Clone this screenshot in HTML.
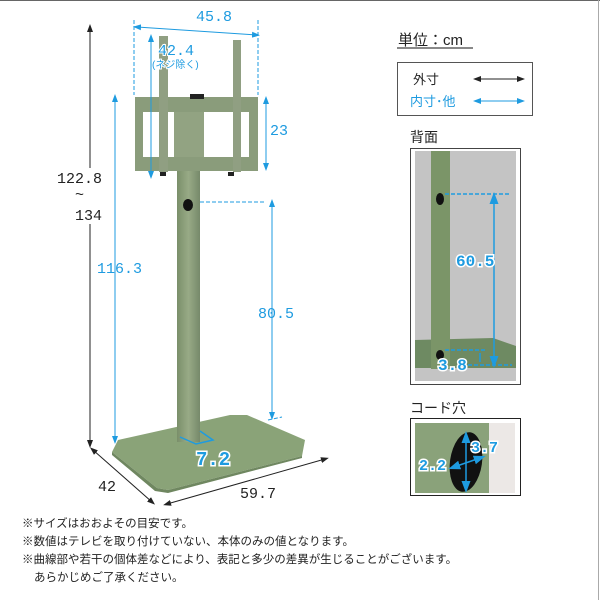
<!DOCTYPE html>
<html><head><meta charset="utf-8"><style>
body{margin:0;width:600px;height:600px;background:#fff;overflow:hidden;font-family:"Liberation Sans","Noto Sans CJK JP",sans-serif}
svg{display:block}
</style></head><body>
<svg width="600" height="600" viewBox="0 0 600 600" xmlns="http://www.w3.org/2000/svg" font-family="Liberation Sans, Noto Sans CJK JP, sans-serif">
<defs>
<marker id="ab" markerWidth="8" markerHeight="8" refX="4" refY="4" orient="auto-start-reverse"><path d="M0,1 L8,4 L0,7z" fill="#222"/></marker>
<marker id="au" markerWidth="8" markerHeight="8" refX="4" refY="4" orient="auto-start-reverse"><path d="M0,1 L8,4 L0,7z" fill="#1e9be0"/></marker>
<linearGradient id="pole" x1="0" x2="1"><stop offset="0" stop-color="#7a8f6a"/><stop offset="0.5" stop-color="#98aa86"/><stop offset="1" stop-color="#76896a"/></linearGradient>
</defs>
<line x1="0" y1="0.5" x2="600" y2="0.5" stroke="#666"/>
<line x1="598.5" y1="0" x2="598.5" y2="600" stroke="#aaa"/>

<!-- base -->
<polygon points="112,452 118,440 230,415 247,415 305,440 302,456 168,490 157,488" fill="#8aa378"/>
<polygon points="112,452 157,488 168,490 302,456 302,458 168,493 155,491 112,455" fill="#6f8760"/>
<!-- pole -->
<rect x="177" y="168" width="23" height="274" fill="url(#pole)"/>
<ellipse cx="188" cy="205" rx="5" ry="6" fill="#111"/>
<!-- mount frame -->
<rect x="135" y="97" width="123" height="74" fill="#8a9c7b"/>
<rect x="143" y="112" width="106" height="45" fill="#fff"/>
<rect x="174" y="112" width="30" height="45" fill="#92a382"/>
<rect x="190" y="94" width="14" height="5" fill="#222"/>
<rect x="159" y="36" width="9" height="136" fill="#909f82"/>
<rect x="233" y="40" width="8" height="132" fill="#909f82"/>
<rect x="160" y="172" width="6" height="4" fill="#222"/><rect x="228" y="172" width="6" height="4" fill="#222"/>

<!-- dims black -->
<line x1="90" y1="28" x2="90" y2="444" stroke="#222" marker-start="url(#ab)" marker-end="url(#ab)"/>
<rect x="55" y="168" width="52" height="56" fill="#fff"/>
<line x1="93" y1="450" x2="152" y2="502" stroke="#222" marker-start="url(#ab)" marker-end="url(#ab)"/>
<line x1="167" y1="504" x2="325" y2="459" stroke="#222" marker-start="url(#ab)" marker-end="url(#ab)"/>
<g font-size="15" fill="#222" font-family="Liberation Mono, monospace">
<text x="57" y="183">122.8</text><text x="75" y="199">~</text><text x="75" y="220">134</text>
<text x="98" y="491">42</text><text x="240" y="498">59.7</text>
</g>
<!-- dims blue -->
<g stroke="#1e9be0" fill="none">
<line x1="134" y1="20" x2="134" y2="95" stroke-dasharray="4,2"/>
<line x1="258" y1="20" x2="258" y2="95" stroke-dasharray="4,2"/>
<line x1="137" y1="27" x2="256" y2="35" marker-start="url(#au)" marker-end="url(#au)"/>
<line x1="151" y1="38" x2="151" y2="175" marker-start="url(#au)" marker-end="url(#au)"/>
<line x1="266" y1="100" x2="266" y2="167" marker-start="url(#au)" marker-end="url(#au)"/>
<line x1="115" y1="98" x2="115" y2="440" marker-start="url(#au)" marker-end="url(#au)"/>
<line x1="272" y1="203" x2="272" y2="416" marker-start="url(#au)" marker-end="url(#au)"/>
<line x1="200" y1="202" x2="266" y2="202" stroke-dasharray="4,2"/>
<line x1="268" y1="420" x2="282" y2="417" stroke-dasharray="4,2"/>
<path d="M180,437 L196,444 L213,440 L200,431" stroke-width="1.5"/>
</g>
<g fill="#1e9be0" font-family="Liberation Mono, monospace" font-size="15">
<text x="196" y="21">45.8</text>
<text x="158" y="55" stroke="#fff" stroke-width="2" paint-order="stroke">42.4</text>
<text x="152" y="68" font-size="10" font-family="Liberation Sans, Noto Sans CJK JP, sans-serif" stroke="#fff" stroke-width="2" paint-order="stroke">(ネジ除く)</text>
<text x="270" y="135">23</text>
<text x="97" y="273">116.3</text>
<text x="258" y="318">80.5</text>
<text x="196" y="465" font-size="19" font-weight="bold" stroke="#fff" stroke-width="3" paint-order="stroke">7.2</text>
</g>

<!-- legend -->
<text x="398" y="45" font-size="15" fill="#222">単位：cm</text>
<line x1="397" y1="48" x2="473" y2="48" stroke="#888" stroke-width="2"/>
<rect x="397.5" y="62.5" width="135" height="53" fill="#fff" stroke="#555"/>
<text x="413" y="84" font-size="13" fill="#222">外寸</text>
<line x1="477" y1="79" x2="521" y2="79" stroke="#222" marker-start="url(#ab)" marker-end="url(#ab)"/>
<text x="410" y="106" font-size="13" fill="#1e9be0">内寸･他</text>
<line x1="477" y1="101" x2="521" y2="101" stroke="#1e9be0" marker-start="url(#au)" marker-end="url(#au)"/>

<!-- back -->
<text x="410" y="142" font-size="14" fill="#222">背面</text>
<rect x="410.5" y="148.5" width="110" height="236" fill="#fff" stroke="#444"/>
<rect x="415" y="151" width="101" height="230" fill="#c4c4c4"/>
<polygon points="415,340 493,338 516,346 516,368 415,368" fill="#6e8a62"/>
<rect x="431" y="151" width="19" height="218" fill="#7b9568"/>
<ellipse cx="440" cy="199" rx="4" ry="6" fill="#111"/>
<ellipse cx="440" cy="355" rx="4" ry="5" fill="#111"/>
<g stroke="#1e9be0" fill="none" stroke-width="1.5">
<line x1="445" y1="194" x2="510" y2="194" stroke-dasharray="4,2"/>
<line x1="445" y1="350" x2="486" y2="350" stroke-dasharray="4,2"/>
<line x1="468" y1="365" x2="512" y2="365" stroke-dasharray="4,2"/>
<line x1="494" y1="198" x2="494" y2="362" marker-start="url(#au)" marker-end="url(#au)"/>
<line x1="480" y1="353" x2="480" y2="362"/>
</g>
<g fill="#1e9be0" font-size="16" font-weight="bold" stroke="#fff" stroke-width="3" paint-order="stroke" font-family="Liberation Mono, monospace">
<text x="456" y="266">60.5</text>
<text x="438" y="370">3.8</text>
</g>

<!-- cord -->
<text x="410" y="413" font-size="14" fill="#222">コード穴</text>
<rect x="410.5" y="418.5" width="110" height="77" fill="#fff" stroke="#222"/>
<rect x="415" y="423" width="74" height="70" fill="#8aa27a"/>
<rect x="489" y="423" width="26" height="70" fill="#ece8e6"/>
<ellipse cx="466" cy="462" rx="16" ry="30" fill="#111" transform="rotate(8 466 462)"/>
<g stroke="#1e9be0" stroke-width="1.5">
<line x1="466" y1="437" x2="466" y2="487" marker-start="url(#au)" marker-end="url(#au)"/>
<line x1="454" y1="467" x2="480" y2="458" marker-start="url(#au)" marker-end="url(#au)"/>
</g>
<g fill="#1e9be0" font-size="15" font-weight="bold" stroke="#fff" stroke-width="3" paint-order="stroke" font-family="Liberation Mono, monospace">
<text x="471" y="452">3.7</text>
<text x="419" y="470">2.2</text>
</g>

<!-- notes -->
<g font-size="11.5" fill="#222">
<text x="22" y="527">※サイズはおおよその目安です。</text>
<text x="22" y="545">※数値はテレビを取り付けていない、本体のみの値となります。</text>
<text x="22" y="563">※曲線部や若干の個体差などにより、表記と多少の差異が生じることがございます。</text>
<text x="34" y="581">あらかじめご了承ください。</text>
</g>
</svg>
</body></html>
